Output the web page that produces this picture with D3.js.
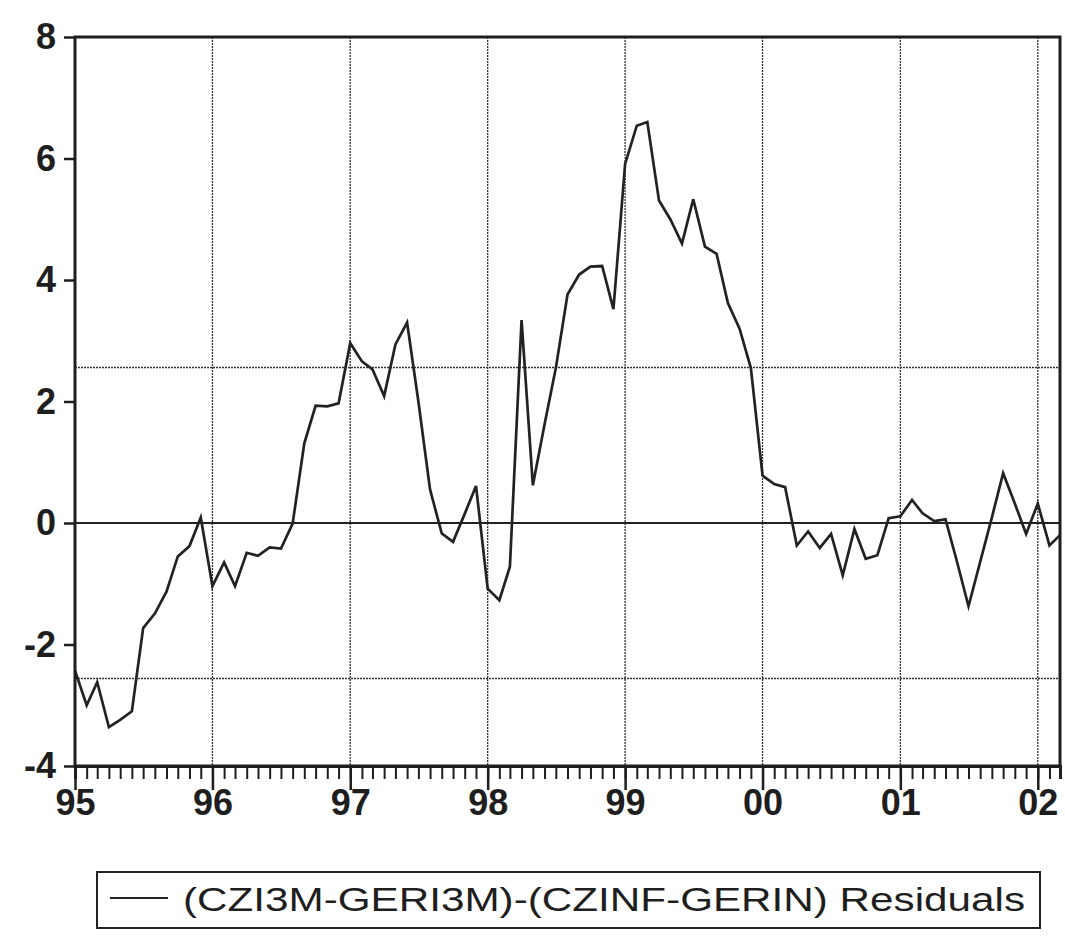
<!DOCTYPE html>
<html>
<head>
<meta charset="utf-8">
<script src="https://cdn.jsdelivr.net/npm/d3@7"></script>
<style>
  body { margin: 0; background: #fff; }
  text { font-family: "Liberation Sans", Arial, sans-serif; fill: #1e1e1e; }
</style>
</head>
<body>
<svg id="chart"></svg>
<script>
// monthly residuals, 1995M01 .. 2002M03
const residuals = [
  -2.43, -3.00, -2.62, -3.36, -3.24, -3.10, -1.73, -1.49, -1.13, -0.55, -0.38, 0.09,
  -1.04, -0.65, -1.04, -0.49, -0.54, -0.40, -0.42, -0.01, 1.31, 1.93, 1.92, 1.97,
  2.96, 2.66, 2.53, 2.09, 2.94, 3.30, 2.00, 0.55, -0.17, -0.31, 0.15, 0.61,
  -1.08, -1.27, -0.72, 3.34, 0.62, 1.62, 2.55, 3.76, 4.09, 4.22, 4.23, 3.52,
  5.91, 6.54, 6.60, 5.31, 5.00, 4.60, 5.33, 4.55, 4.43, 3.62, 3.20, 2.55,
  0.78, 0.64, 0.59, -0.37, -0.14, -0.41, -0.18, -0.86, -0.10, -0.59, -0.53, 0.08,
  0.11, 0.38, 0.16, 0.03, 0.06, -0.65, -1.37, -0.64, 0.09, 0.82, 0.32, -0.18,
  0.32, -0.37, -0.20
]
const yearLabels = ["95", "96", "97", "98", "99", "00", "01", "02"]
const yTicks = [-4, -2, 0, 2, 4, 6, 8]
const bandSd = [-2.56, 2.56]
const legendLabel = "(CZI3M-GERI3M)-(CZINF-GERIN) Residuals"

const width = 1065
const height = 945
const plot = { left: 75, right: 1060, top: 37, bottom: 766 }

const dates = residuals.map((v, i) => new Date(1995, i, 1))
const yearDates = yearLabels.map((l, i) => new Date(1995 + i, 0, 1))

const x = d3.scaleTime()
  .domain([dates[0], dates[dates.length - 1]])
  .range([plot.left, plot.right])

const y = d3.scaleLinear()
  .domain([-4, 8])
  .range([plot.bottom, plot.top])

const svg = d3.select('#chart')
  .attr('width', width)
  .attr('height', height)

// vertical year grid (dotted)
svg.append('g')
  .selectAll('line')
  .data(yearDates.slice(1))
  .enter().append('line')
  .attr('x1', d => x(d))
  .attr('x2', d => x(d))
  .attr('y1', plot.top)
  .attr('y2', plot.bottom)
  .attr('stroke', '#333')
  .attr('stroke-width', 1.3)
  .attr('stroke-dasharray', '2,1')

// +/- band lines (dotted)
svg.append('g')
  .selectAll('line')
  .data(bandSd)
  .enter().append('line')
  .attr('x1', plot.left)
  .attr('x2', plot.right)
  .attr('y1', d => y(d))
  .attr('y2', d => y(d))
  .attr('stroke', '#333')
  .attr('stroke-width', 1.3)
  .attr('stroke-dasharray', '2,1')

// zero line
svg.append('line')
  .attr('x1', plot.left)
  .attr('x2', plot.right)
  .attr('y1', y(0))
  .attr('y2', y(0))
  .attr('stroke', '#222')
  .attr('stroke-width', 1.8)

// residual line
const line = d3.line()
  .x((d, i) => x(dates[i]))
  .y(d => y(d))

svg.append('path')
  .datum(residuals)
  .attr('d', line)
  .attr('fill', 'none')
  .attr('stroke', '#222')
  .attr('stroke-width', 2.7)
  .attr('stroke-linejoin', 'miter')

// frame
svg.append('rect')
  .attr('x', plot.left)
  .attr('y', plot.top)
  .attr('width', plot.right - plot.left)
  .attr('height', plot.bottom - plot.top)
  .attr('fill', 'none')
  .attr('stroke', '#1e1e1e')
  .attr('stroke-width', 3)

// y axis
const yAxis = svg.append('g')
  .attr('transform', `translate(${plot.left},0)`)
  .call(d3.axisLeft(y).tickValues(yTicks).tickSize(11).tickPadding(8).tickFormat(d => String(d)))
yAxis.select('.domain').remove()
yAxis.selectAll('line').attr('stroke', '#1e1e1e').attr('stroke-width', 2.5)
yAxis.selectAll('text')
  .attr('font-size', 36)
  .attr('font-weight', 'bold')
  .attr('font-family', '"Liberation Sans", Arial, sans-serif')
  .attr('fill', '#1e1e1e')

// x axis: monthly minor ticks
const xMinor = svg.append('g')
  .attr('transform', `translate(0,${plot.bottom})`)
  .call(d3.axisBottom(x).tickValues(dates).tickSize(13).tickFormat(''))
xMinor.select('.domain').attr('stroke', '#1e1e1e').attr('stroke-width', 3)
xMinor.selectAll('line').attr('stroke', '#1e1e1e').attr('stroke-width', 2)

// x axis: year ticks and labels
const xMajor = svg.append('g')
  .attr('transform', `translate(0,${plot.bottom})`)
  .call(d3.axisBottom(x).tickValues(yearDates).tickSize(24).tickPadding(-1)
    .tickFormat((d, i) => yearLabels[i]))
xMajor.select('.domain').remove()
xMajor.selectAll('line').attr('stroke', '#1e1e1e').attr('stroke-width', 2.5)
xMajor.selectAll('text')
  .attr('font-size', 36)
  .attr('font-weight', 'bold')
  .attr('font-family', '"Liberation Sans", Arial, sans-serif')
  .attr('fill', '#1e1e1e')

// legend
const legend = svg.append('g')
legend.append('rect')
  .attr('x', 97)
  .attr('y', 872)
  .attr('width', 943)
  .attr('height', 56)
  .attr('fill', 'none')
  .attr('stroke', '#222')
  .attr('stroke-width', 2)
legend.append('line')
  .attr('x1', 110)
  .attr('x2', 168)
  .attr('y1', 898)
  .attr('y2', 898)
  .attr('stroke', '#222')
  .attr('stroke-width', 2)
legend.append('text')
  .attr('x', 183)
  .attr('y', 911)
  .attr('font-size', 33)
  .attr('textLength', 842)
  .attr('lengthAdjust', 'spacingAndGlyphs')
  .text(legendLabel)
</script>
</body>
</html>
